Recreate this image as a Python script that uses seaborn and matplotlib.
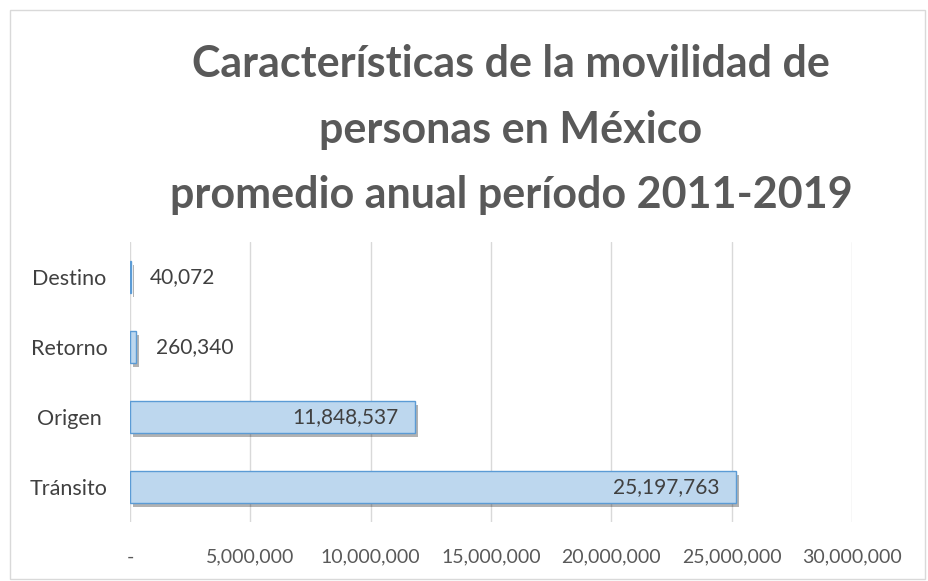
import matplotlib
matplotlib.use("Agg")
import matplotlib.pyplot as plt
import matplotlib.patheffects as pe
import seaborn as sns
import pandas as pd

categories = ["Destino", "Retorno", "Origen", "Tránsito"]
values = [40072, 260340, 11848537, 25197763]
value_labels = ["40,072", "260,340", "11,848,537", "25,197,763"]
xticks = [0, 5000000, 10000000, 15000000, 20000000, 25000000, 30000000]
xtick_labels = ["-", "5,000,000", "10,000,000", "15,000,000", "20,000,000", "25,000,000", "30,000,000"]
title = "Características de la movilidad de\npersonas en México\npromedio anual período 2011-2019"

sns.set_style("white")
plt.rcParams['font.family'] = ['Lato', 'DejaVu Sans']

df = pd.DataFrame({"cat": categories, "val": values})

fig = plt.figure(figsize=(9.29, 5.81), dpi=100)
ax = fig.add_axes([0.14, 0.1015, 0.777, 0.482])

sns.barplot(data=df, x="val", y="cat", orient="h", ax=ax, color="#BDD7EE",
            width=0.46, edgecolor="#5B9BD5", linewidth=1.0, saturation=1)
for p in ax.patches:
    p.set_path_effects([pe.SimplePatchShadow(offset=(2, -3), shadow_rgbFace="#000000", alpha=0.3), pe.Normal()])
    p.set_zorder(3)

ax.set_xlim(0, 30000000)
ax.set_xticks(xticks)
ax.set_xticklabels(xtick_labels, fontsize=14, color="#595959")
ax.tick_params(axis="x", length=0, pad=19)
ax.tick_params(axis="y", length=0, pad=44, labelsize=15.5, labelcolor="#404040")
for t in ax.get_yticklabels():
    t.set_ha("center")
ax.set_xlabel("")
ax.set_ylabel("")
ax.grid(axis="x", color="#D9D9D9", linewidth=1)
ax.set_axisbelow(True)
for s in ax.spines.values():
    s.set_visible(False)
ax.set_ylim(3.5, -0.5)

for i, (v, lab) in enumerate(zip(values, value_labels)):
    if v > 2000000:
        ax.text(v - 700000, i, lab, ha="right", va="center", fontsize=15, color="#404040", zorder=5)
    else:
        ax.text(v + 800000, i, lab, ha="left", va="center", fontsize=15, color="#404040", zorder=5)

fig.text(0.55, 0.777, title, ha="center", va="center", fontsize=31, fontweight="bold",
         color="#595959", linespacing=1.78)

border = plt.Rectangle((0.011, 0.003), 0.985, 0.98, transform=fig.transFigure, fill=False,
                       edgecolor="#D9D9D9", linewidth=1)
fig.patches.append(border)

fig.savefig("out.png", dpi=100, facecolor="white")
